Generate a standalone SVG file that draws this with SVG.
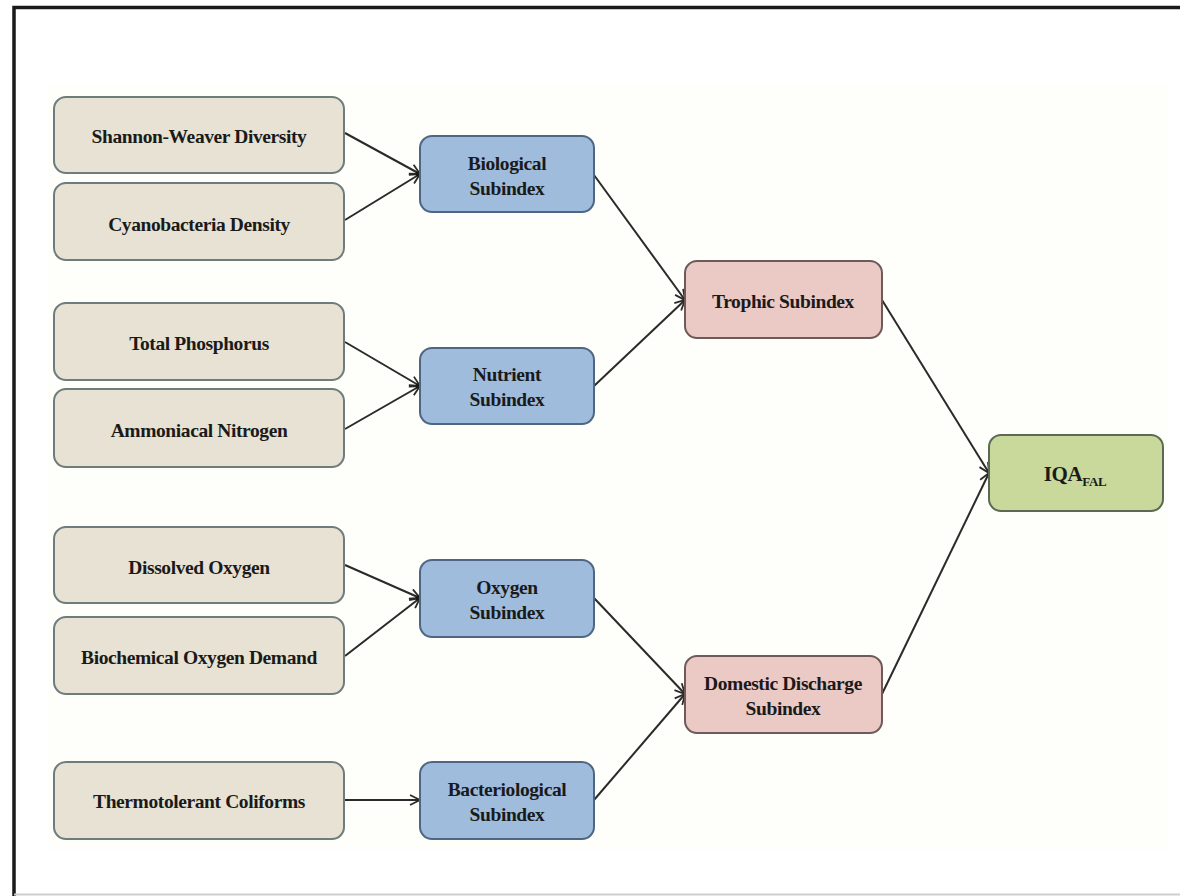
<svg xmlns="http://www.w3.org/2000/svg" width="1180" height="896" viewBox="0 0 1180 896">
<defs>
<style>
.in{fill:#e7e2d3;stroke:#6f7c7c;stroke-width:2}
.blue{fill:#9fbcdc;stroke:#4e6683;stroke-width:2}
.pink{fill:#ebc9c5;stroke:#6e5a5a;stroke-width:2}
.green{fill:#c8d99b;stroke:#5c6a55;stroke-width:2}
text{font-family:"Liberation Serif","Times New Roman",serif;font-weight:bold;font-size:19.5px;fill:#1a1a1a;text-anchor:middle;letter-spacing:-0.4px}
.c{fill:none;stroke:#2a2a2a;stroke-width:2}
</style>
<marker id="ah" viewBox="0 0 12 12" refX="11" refY="6" markerWidth="12" markerHeight="12" markerUnits="userSpaceOnUse" orient="auto">
<path d="M1,1 L11,6 L1,11" fill="none" stroke="#2a2a2a" stroke-width="1.8"/>
</marker>
</defs>
<rect width="1180" height="896" fill="#ffffff"/>
<rect x="48" y="85" width="1120" height="765" fill="#fefefa"/>
<path d="M14,896 V7.5 H1180" fill="none" stroke="#1a1a1a" stroke-width="3.5"/>
<line x1="14" y1="894.5" x2="1180" y2="894.5" stroke="#cfcfcf" stroke-width="2"/>

<g id="connectors">
<line class="c" x1="345" y1="133" x2="420" y2="174" marker-end="url(#ah)"/>
<line class="c" x1="345" y1="220" x2="420" y2="174" marker-end="url(#ah)"/>
<line class="c" x1="345" y1="342" x2="420" y2="386" marker-end="url(#ah)"/>
<line class="c" x1="345" y1="429" x2="420" y2="386" marker-end="url(#ah)"/>
<line class="c" x1="345" y1="565" x2="420" y2="598" marker-end="url(#ah)"/>
<line class="c" x1="345" y1="656" x2="420" y2="598" marker-end="url(#ah)"/>
<line class="c" x1="345" y1="800" x2="420" y2="800" marker-end="url(#ah)"/>
<line class="c" x1="594" y1="175" x2="685" y2="300" marker-end="url(#ah)"/>
<line class="c" x1="594" y1="386" x2="685" y2="300" marker-end="url(#ah)"/>
<line class="c" x1="594" y1="598" x2="685" y2="694" marker-end="url(#ah)"/>
<line class="c" x1="594" y1="800" x2="685" y2="694" marker-end="url(#ah)"/>
<line class="c" x1="882" y1="300" x2="989" y2="473" marker-end="url(#ah)"/>
<line class="c" x1="882" y1="694" x2="989" y2="473" marker-end="url(#ah)"/>
<circle cx="418" cy="174" r="2.5" fill="#1a1a1a"/>
<circle cx="418" cy="386" r="2.5" fill="#1a1a1a"/>
<circle cx="418" cy="598" r="2.5" fill="#1a1a1a"/>
</g>

<g id="n-shannon"><rect class="in" x="54" y="97" width="290" height="76" rx="12"/><text x="199" y="143">Shannon-Weaver Diversity</text></g>
<g id="n-cyano"><rect class="in" x="54" y="183" width="290" height="77" rx="12"/><text x="199" y="231">Cyanobacteria Density</text></g>
<g id="n-phos"><rect class="in" x="54" y="303" width="290" height="77" rx="12"/><text x="199" y="350">Total Phosphorus</text></g>
<g id="n-ammo"><rect class="in" x="54" y="389" width="290" height="78" rx="12"/><text x="199" y="437">Ammoniacal Nitrogen</text></g>
<g id="n-do"><rect class="in" x="54" y="527" width="290" height="76" rx="12"/><text x="199" y="574">Dissolved Oxygen</text></g>
<g id="n-bod"><rect class="in" x="54" y="617" width="290" height="77" rx="12"/><text x="199" y="664">Biochemical Oxygen Demand</text></g>
<g id="n-thermo"><rect class="in" x="54" y="762" width="290" height="77" rx="12"/><text x="199" y="808">Thermotolerant Coliforms</text></g>

<g id="n-bio"><rect class="blue" x="420" y="136" width="174" height="76" rx="12"/><text x="507" y="170">Biological</text><text x="507" y="195">Subindex</text></g>
<g id="n-nut"><rect class="blue" x="420" y="348" width="174" height="76" rx="12"/><text x="507" y="381">Nutrient</text><text x="507" y="406">Subindex</text></g>
<g id="n-oxy"><rect class="blue" x="420" y="560" width="174" height="77" rx="12"/><text x="507" y="594">Oxygen</text><text x="507" y="619">Subindex</text></g>
<g id="n-bact"><rect class="blue" x="420" y="762" width="174" height="77" rx="12"/><text x="507" y="796">Bacteriological</text><text x="507" y="821">Subindex</text></g>

<g id="n-trophic"><rect class="pink" x="685" y="261" width="197" height="77" rx="12"/><text x="783" y="308">Trophic Subindex</text></g>
<g id="n-domestic"><rect class="pink" x="685" y="656" width="197" height="77" rx="12"/><text x="783" y="690">Domestic Discharge</text><text x="783" y="715">Subindex</text></g>

<g id="n-iqa"><rect class="green" x="989" y="435" width="174" height="76" rx="12"/><text x="1075" y="481" style="font-size:21px">IQA<tspan dy="5" style="font-size:13px">FAL</tspan></text></g>
</svg>
